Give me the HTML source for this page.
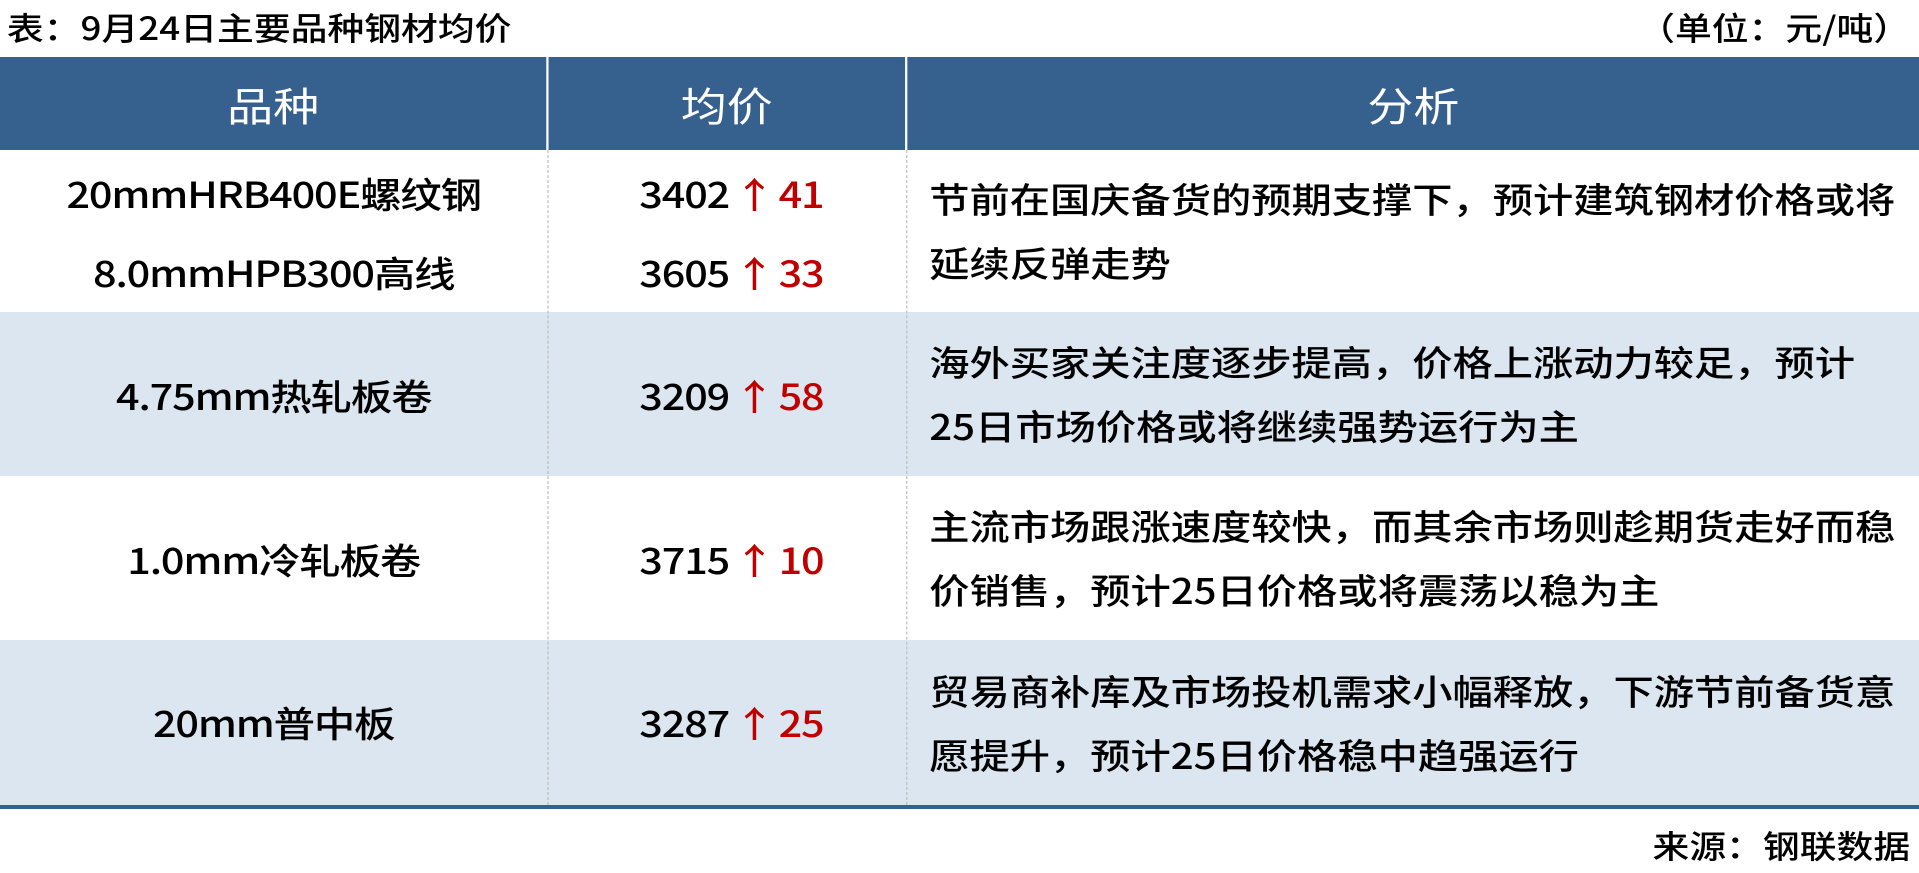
<!DOCTYPE html>
<html><head><meta charset="utf-8"><style>
html,body{margin:0;padding:0;width:1919px;height:873px;overflow:hidden;background:#fff;}
#w{position:absolute;left:0;top:0;width:1669px;height:873px;transform:scaleX(1.15);transform-origin:0 0;font-family:"Liberation Sans","Noto Sans CJK SC",sans-serif;color:#000;}
.a{position:absolute;white-space:nowrap;}
.hd{position:absolute;top:57px;height:93px;background:#36618f;color:#fff;font-size:40px;display:flex;align-items:center;justify-content:center;font-family:"Noto Sans CJK SC",sans-serif;}
.row{position:absolute;left:0;width:1669px;}
.c{position:absolute;display:flex;align-items:center;justify-content:center;font-size:36px;font-weight:500;font-family:"Noto Sans CJK SC",sans-serif;white-space:nowrap;letter-spacing:-1px;}
.an{position:absolute;left:808px;width:860px;display:flex;align-items:center;font-size:35px;font-weight:500;line-height:64px;font-family:"Noto Sans CJK SC",sans-serif;white-space:nowrap;}
.r{color:#c00000;}
.vd{position:absolute;width:0;border-left:1px dashed #bbb;}
</style></head><body><div id="w">
<div class="a" style="left:6px;top:4px;font-size:32px;font-family:'Noto Sans CJK SC',sans-serif;font-weight:500;">表：9月24日主要品种钢材均价</div>
<div class="a" style="right:8px;top:4px;font-size:32px;font-family:'Noto Sans CJK SC',sans-serif;font-weight:500;">（单位：元/吨）</div>
<div class="hd" style="left:0;width:475px;">品种</div>
<div class="hd" style="left:477px;width:310px;">均价</div>
<div class="hd" style="left:789px;width:880px;">分析</div>
<div class="row" style="top:150px;height:162px;background:#fff"></div>
<div class="row" style="top:312px;height:164px;background:#dce6f0"></div>
<div class="row" style="top:476px;height:164px;background:#fff"></div>
<div class="row" style="top:640px;height:165px;background:#dce6f0"></div>
<div class="row" style="top:805px;height:4px;background:#36618f"></div>
<div class="vd" style="left:476px;top:150px;height:655px"></div>
<div class="vd" style="left:788px;top:150px;height:655px"></div>

<div class="c" style="left:0;width:476px;top:163px;height:60px">20mmHRB400E螺纹钢</div>
<div class="c" style="left:0;width:476px;top:242px;height:60px">8.0mmHPB300高线</div>
<div class="c" style="left:0;width:476px;top:365px;height:60px">4.75mm热轧板卷</div>
<div class="c" style="left:0;width:476px;top:529px;height:60px">1.0mm冷轧板卷</div>
<div class="c" style="left:0;width:476px;top:692px;height:60px">20mm普中板</div>

<div class="c" style="left:476px;width:320px;top:163px;height:60px">3402<span class="r" style="margin-left:4px">↑<span style="margin-left:4px">41</span></span></div>
<div class="c" style="left:476px;width:320px;top:242px;height:60px">3605<span class="r" style="margin-left:4px">↑<span style="margin-left:4px">33</span></span></div>
<div class="c" style="left:476px;width:320px;top:365px;height:60px">3209<span class="r" style="margin-left:4px">↑<span style="margin-left:4px">58</span></span></div>
<div class="c" style="left:476px;width:320px;top:529px;height:60px">3715<span class="r" style="margin-left:4px">↑<span style="margin-left:4px">10</span></span></div>
<div class="c" style="left:476px;width:320px;top:692px;height:60px">3287<span class="r" style="margin-left:4px">↑<span style="margin-left:4px">25</span></span></div>

<div class="an" style="top:150px;height:162px"><div>节前在国庆备货的预期支撑下，预计建筑钢材价格或将<br>延续反弹走势</div></div>
<div class="an" style="top:312px;height:164px"><div>海外买家关注度逐步提高，价格上涨动力较足，预计<br>25日市场价格或将继续强势运行为主</div></div>
<div class="an" style="top:476px;height:164px"><div>主流市场跟涨速度较快，而其余市场则趁期货走好而稳<br>价销售，预计25日价格或将震荡以稳为主</div></div>
<div class="an" style="top:640px;height:165px"><div>贸易商补库及市场投机需求小幅释放，下游节前备货意<br>愿提升，预计25日价格稳中趋强运行</div></div>

<div class="a" style="right:8px;top:822px;font-size:32px;font-family:'Noto Sans CJK SC',sans-serif;font-weight:500;">来源：钢联数据</div>
</div></body></html>
